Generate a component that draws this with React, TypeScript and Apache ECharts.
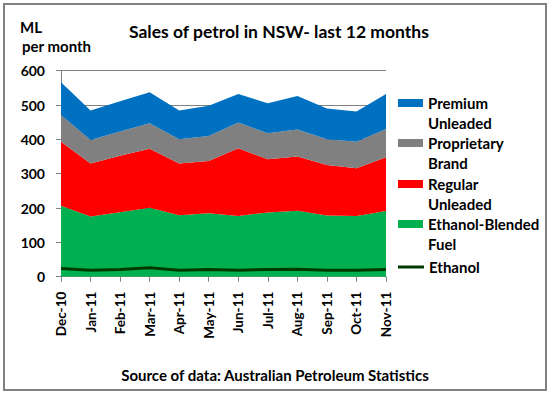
import React, { useEffect, useRef } from "react";
import * as echarts from "echarts";

const months = ["Dec-10", "Jan-11", "Feb-11", "Mar-11", "Apr-11", "May-11", "Jun-11", "Jul-11", "Aug-11", "Sep-11", "Oct-11", "Nov-11"];
const ethanolBlended = [207, 175, 188, 201, 179, 185, 177, 187, 192, 178, 177, 191];
const regularUnleaded = [186, 155, 164, 172, 151, 152, 197, 155, 158, 147, 139, 157];
const proprietaryBrand = [78, 68, 71, 74, 70, 73, 75, 76, 79, 75, 77, 82];
const premiumUnleaded = [95, 86, 88, 90, 84, 88, 83, 87, 97, 90, 88, 102];
const ethanol = [24, 19, 21, 26, 19, 21, 19, 21, 22, 19, 19, 21];

const FONT = "Lato";

export default function App() {
  const ref = useRef<HTMLDivElement>(null);
  useEffect(() => {
    if (!ref.current) return;
    const chart = echarts.init(ref.current, null, { renderer: "svg" });
    const area = (name: string, data: number[], color: string) => ({
      name,
      type: "line",
      stack: "total",
      data,
      symbol: "none",
      showSymbol: false,
      lineStyle: { width: 0 },
      itemStyle: { color },
      areaStyle: { color, opacity: 1 },
    });
    const legendBase = {
      orient: "vertical",
      left: 398,
      padding: 0,
      itemWidth: 25,
      itemHeight: 8,
      icon: "rect",
      textStyle: { fontFamily: FONT, fontWeight: "bold", fontSize: 15, color: "#000", lineHeight: 20 },
      formatter: (n: string) => "\n" + n.replace(" ", "\n"),
    };
    chart.setOption({
      animation: false,
      backgroundColor: "#fff",
      title: {
        text: "Sales of petrol in NSW- last 12 months",
        left: 124,
        top: 17,
        textStyle: { fontFamily: FONT, fontWeight: "bold", fontSize: 17.5, color: "#000" },
      },
      grid: { left: 61, right: 166, top: 70.7, bottom: 119.3 },
      legend: [
        { ...legendBase, top: 73, data: ["Premium Unleaded"] },
        { ...legendBase, top: 113, data: ["Proprietary Brand"] },
        { ...legendBase, top: 154, data: ["Regular Unleaded"] },
        { ...legendBase, top: 194, data: ["Ethanol-Blended Fuel"] },
        { ...legendBase, top: 257, itemWidth: 26, itemHeight: 3, formatter: (n: string) => n, data: ["Ethanol"] },
      ],
      xAxis: {
        type: "category",
        data: months,
        boundaryGap: false,
        axisLine: { lineStyle: { color: "#808080", width: 1 } },
        axisTick: { show: true, length: 5, interval: 0, lineStyle: { color: "#808080" } },
        axisLabel: {
          interval: 0,
          rotate: 90,
          margin: 15,
          fontFamily: FONT,
          fontWeight: "bold",
          fontSize: 13.5,
          color: "#000",
        },
      },
      yAxis: {
        type: "value",
        min: 0,
        max: 600,
        interval: 100,
        axisLine: { show: true, lineStyle: { color: "#808080", width: 1 } },
        axisTick: { show: true, length: 5, lineStyle: { color: "#808080" } },
        splitLine: { lineStyle: { color: "#808080", width: 1 } },
        axisLabel: { margin: 16, fontFamily: FONT, fontWeight: "bold", fontSize: 14, color: "#000" },
      },
      series: [
        area("Ethanol-Blended Fuel", ethanolBlended, "#00B050"),
        area("Regular Unleaded", regularUnleaded, "#FF0000"),
        area("Proprietary Brand", proprietaryBrand, "#808080"),
        area("Premium Unleaded", premiumUnleaded, "#0070C0"),
        {
          name: "Ethanol",
          type: "line",
          data: ethanol,
          symbol: "none",
          showSymbol: false,
          z: 5,
          itemStyle: { color: "#003a00" },
          lineStyle: { color: "#003a00", width: 3 },
        },
      ],
      graphic: [
        {
          type: "rect",
          shape: { x: 4, y: 4, width: 542, height: 386 },
          style: { fill: "none", stroke: "#808080", lineWidth: 2 },
          silent: true,
        },
        {
          type: "text",
          x: 20,
          y: 27,
          style: { text: "ML", fontFamily: FONT, fontWeight: "bold", fontSize: 15, fill: "#000", verticalAlign: "middle" },
        },
        {
          type: "text",
          x: 22,
          y: 46,
          style: { text: "per month", fontFamily: FONT, fontWeight: "bold", fontSize: 15, fill: "#000", verticalAlign: "middle" },
        },
        {
          type: "text",
          x: 275,
          y: 375,
          style: {
            text: "Source of data: Australian Petroleum Statistics",
            fontFamily: FONT,
            fontWeight: "bold",
            fontSize: 15,
            fill: "#000",
            align: "center",
            verticalAlign: "middle",
          },
        },
      ],
    });
    return () => chart.dispose();
  }, []);
  return <div ref={ref} style={{ position: "fixed", left: 0, top: 0, width: 552, height: 396 }} />;
}
